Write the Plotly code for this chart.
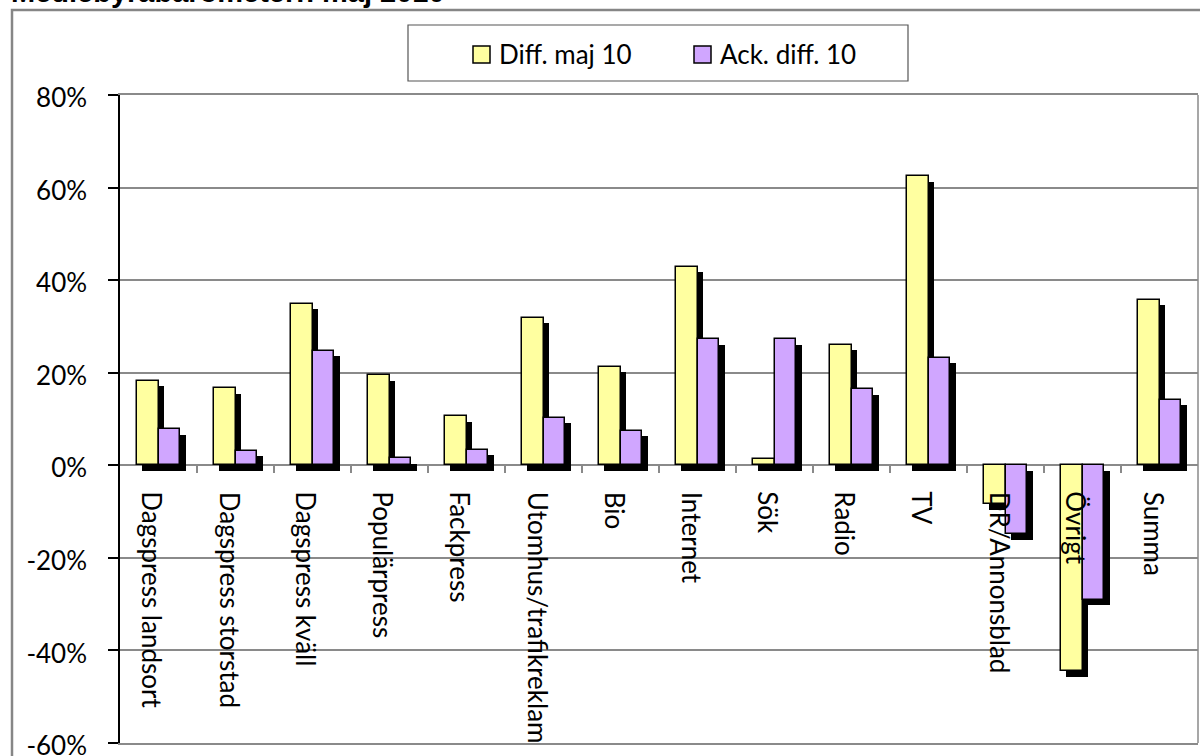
import plotly.graph_objects as go

# Media categories and percentage changes (May 2010)
categories = [
    "Dagspress landsort", "Dagspress storstad", "Dagspress kväll", "Populärpress",
    "Fackpress", "Utomhus/trafikreklam", "Bio", "Internet", "Sök", "Radio", "TV",
    "DR/Annonsblad", "Övrigt", "Summa",
]
diff_maj_10 = [18.3, 16.6, 34.9, 19.4, 10.6, 31.9, 21.3, 42.9, 1.4, 26.0, 62.5, -8.4, -44.5, 35.8]
ack_diff_10 = [7.8, 3.1, 24.8, 1.5, 3.4, 10.3, 7.5, 27.2, 27.2, 16.4, 23.2, -14.9, -29.0, 14.2]
series_names = ["Diff. maj 10", "Ack. diff. 10"]
y_ticks = [-60, -40, -20, 0, 20, 40, 60, 80]

W, H = 1200, 756
PL, PR, PT, PB = 120, 1198, 95, 743   # plot area in page pixels
FONT = "Lato"
YELLOW = "#FFFFA0"
PURPLE = "#D0A6FF"
GRID = "#8a8a8a"

BAR_W = 0.28                       # bar width in category units
px_per_unit_y = (PB - PT) / (y_ticks[-1] - y_ticks[0])
px_per_cat = (PR - PL) / len(categories)
SHADOW_PX = 5.5
sh_dx = SHADOW_PX / px_per_cat
sh_dy = SHADOW_PX / px_per_unit_y


def fx(px):
    return (px - PL) / (PR - PL)


def fy(py):
    return (PB - py) / (PB - PT)


fig = go.Figure()

# drop shadows, drawn first so the bars sit on top
for vals, off in ((diff_maj_10, -BAR_W), (ack_diff_10, 0.0)):
    fig.add_trace(go.Bar(
        x=categories, y=vals, base=-sh_dy, offset=off + sh_dx, width=BAR_W,
        marker=dict(color="black", line=dict(width=0)),
        showlegend=False, hoverinfo="skip",
    ))

for vals, off, col, name in ((diff_maj_10, -BAR_W, YELLOW, series_names[0]),
                             (ack_diff_10, 0.0, PURPLE, series_names[1])):
    fig.add_trace(go.Bar(
        x=categories, y=vals, offset=off, width=BAR_W, name=name,
        marker=dict(color=col, line=dict(color="black", width=1.5)),
        showlegend=False,
    ))

# category labels, rotated, hanging below the zero line
for cat in categories:
    fig.add_annotation(
        x=cat, y=0, xref="x", yref="y", text=cat, showarrow=False,
        textangle=90, xanchor="center", yanchor="top", yshift=-24, xshift=-6,
        font=dict(family=FONT, size=26, color="black"),
    )

shapes = []
# outer chart frame
shapes.append(dict(type="rect", xref="paper", yref="paper",
                   x0=fx(12), x1=fx(1215), y0=fy(770), y1=fy(10),
                   line=dict(color="#868686", width=2.5), layer="below"))
# right edge of plot area
shapes.append(dict(type="line", xref="paper", yref="paper",
                   x0=1, x1=1, y0=0, y1=1, line=dict(color=GRID, width=1.5)))

# legend box with swatches
shapes.append(dict(type="rect", xref="paper", yref="paper",
                   x0=fx(408), x1=fx(908), y0=fy(81), y1=fy(25),
                   line=dict(color="#555555", width=1.2), fillcolor="white"))
legend_items = [(series_names[0], YELLOW, 473, 497), (series_names[1], PURPLE, 694, 718)]
for name, col, sx, tx in legend_items:
    shapes.append(dict(type="rect", xref="paper", yref="paper",
                       x0=fx(sx), x1=fx(sx + 17), y0=fy(63), y1=fy(46),
                       line=dict(color="black", width=1.5), fillcolor=col))
    fig.add_annotation(x=fx(tx), y=fy(54), xref="paper", yref="paper", text=name,
                       showarrow=False, xanchor="left", yanchor="middle",
                       font=dict(family=FONT, size=26, color="black"))

# chart title
fig.add_annotation(x=fx(9), y=fy(10), xref="paper", yref="paper",
                   text="<b>Mediebyråbarometern maj 2010</b>", showarrow=False,
                   xanchor="left", yanchor="bottom",
                   font=dict(family="Liberation Sans, Arial", size=29, color="black"))

fig.update_layout(
    width=W, height=H,
    margin=dict(l=PL, r=W - PR, t=PT, b=H - PB, pad=0, autoexpand=False),
    paper_bgcolor="white", plot_bgcolor="white",
    barmode="overlay", bargap=0,
    showlegend=False,
    shapes=shapes,
    xaxis=dict(
        type="category", range=[-0.5, len(categories) - 0.5], automargin=False,
        showticklabels=False, ticks="", showgrid=False, zeroline=False,
        showline=True, mirror=True, linecolor=GRID, linewidth=1.5,
    ),
    # tick marks between categories along the zero line
    xaxis2=dict(
        overlaying="x", anchor="free", automargin=False,
        position=(0 - y_ticks[0]) / (y_ticks[-1] - y_ticks[0]),
        range=[-0.5, len(categories) - 0.5],
        tickvals=[i + 0.5 for i in range(len(categories) - 1)],
        showticklabels=False, ticks="outside", ticklen=7, tickwidth=1.5, tickcolor=GRID,
        showgrid=False, zeroline=False, showline=False,
    ),
    yaxis=dict(
        range=[y_ticks[0], y_ticks[-1]], tickvals=y_ticks, automargin=False,
        ticktext=[f"{v}%" for v in y_ticks],
        ticks="outside", ticklen=10, tickwidth=1.5, tickcolor="black",
        ticklabelstandoff=16, ticklabelshift=3, ticklabeloverflow="allow",
        showline=True, linecolor="black", linewidth=1.5,
        showgrid=True, gridcolor=GRID, gridwidth=1.5,
        zeroline=True, zerolinecolor=GRID, zerolinewidth=1.5,
        tickfont=dict(family=FONT, size=26, color="black"),
    ),
)

# make sure the tick-mark axis is rendered
fig.add_trace(go.Scatter(x=[0], y=[0], xaxis="x2", mode="markers",
                         marker=dict(opacity=0), showlegend=False, hoverinfo="skip"))

fig.write_html("out.html")
